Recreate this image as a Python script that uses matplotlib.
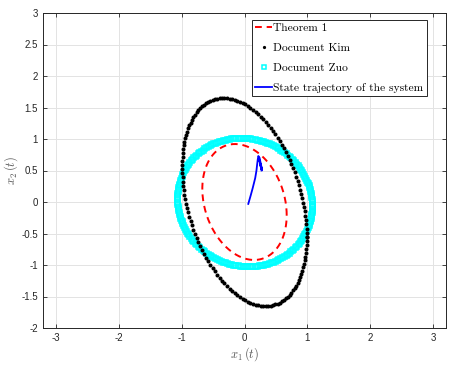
import numpy as np
import matplotlib

matplotlib.use("Agg")
import matplotlib.pyplot as plt
from matplotlib.ticker import FuncFormatter

plt.rcParams["mathtext.fontset"] = "cm"

# ellipse shapes: (x-extent, y-extent, cross term)
theorem_ext = (0.67, 0.92, -0.14)
kim_ext = (0.99, 1.65, -0.55)
zuo_ext = (1.07, 1.02, -0.06)
n_theorem, n_kim, n_zuo = 300, 150, 200

# state trajectory
traj_x = [0.06, 0.08, 0.10, 0.13, 0.15, 0.17, 0.19, 0.20, 0.21, 0.22, 0.24,
          0.26, 0.28, 0.25, 0.23, 0.25, 0.27, 0.26, 0.25, 0.27]
traj_y = [-0.03, 0.04, 0.11, 0.22, 0.30, 0.38, 0.50, 0.59, 0.67, 0.73, 0.70,
          0.60, 0.51, 0.62, 0.68, 0.60, 0.52, 0.56, 0.60, 0.50]

x_ticks = [-3, -2, -1, 0, 1, 2, 3]
y_ticks = [-2, -1.5, -1, -0.5, 0, 0.5, 1, 1.5, 2, 2.5, 3]


def boundary(ext, n):
    sx, sy, sxy = ext
    S = np.array([[sx ** 2, sxy], [sxy, sy ** 2]])
    L = np.linalg.cholesky(S)
    t = np.linspace(0, 2 * np.pi, n)
    pts = L @ np.vstack([np.cos(t), np.sin(t)])
    return pts[0], pts[1]


fig = plt.figure(figsize=(4.58, 3.66), dpi=100)
ax = fig.add_axes([43 / 458, 38 / 366, 403 / 458, 315 / 366])

tx, ty = boundary(theorem_ext, n_theorem)
kx, ky = boundary(kim_ext, n_kim)
zx, zy = boundary(zuo_ext, n_zuo)

ax.plot(tx, ty, "--", color="red", lw=1.4, dashes=(3.5, 2.5), label="Theorem 1", zorder=4)
ax.plot(kx, ky, "o", color="black", ms=2.9, mew=0, label="Document Kim", zorder=3)
ax.plot(zx, zy, "s", mfc="none", mec="cyan", ms=3.6, mew=1.1, label="Document Zuo", zorder=2)
ax.plot(traj_x, traj_y, "-", color="blue", lw=1.3, label="State trajectory of the system", zorder=5)

ax.set_xlim(-3.2, 3.2)
ax.set_ylim(-2, 3)
ax.set_xticks(x_ticks)
ax.set_yticks(y_ticks)
fmt = FuncFormatter(lambda v, p: f"{v:g}".replace("\u2212", "-"))
ax.xaxis.set_major_formatter(fmt)
ax.yaxis.set_major_formatter(fmt)
ax.tick_params(direction="in", top=True, right=True, length=3, width=0.6,
               labelsize=7, colors="#262626")
for lab in ax.get_xticklabels() + ax.get_yticklabels():
    lab.set_fontfamily("Liberation Sans")
for s in ax.spines.values():
    s.set_color("#262626")
    s.set_linewidth(0.7)
ax.grid(True, color="#e3e3e3", lw=0.7)
ax.set_axisbelow(True)

ax.set_xlabel(r"$x_1\,(t)$", fontsize=9, color="#555555", labelpad=2)
ax.set_ylabel(r"$x_2\,(t)$", fontsize=9, color="#555555", labelpad=1)

leg = ax.legend(loc="upper right", bbox_to_anchor=(0.958, 0.986),
                prop={"family": "cmr10", "size": 8.3}, handlelength=1.45,
                handletextpad=0.1, labelspacing=0.85, borderpad=0.3,
                borderaxespad=0.2, fancybox=False, framealpha=1, markerscale=0.8)
leg.get_frame().set_edgecolor("#262626")
leg.get_frame().set_linewidth(0.7)

fig.savefig("out.png", dpi=100)
